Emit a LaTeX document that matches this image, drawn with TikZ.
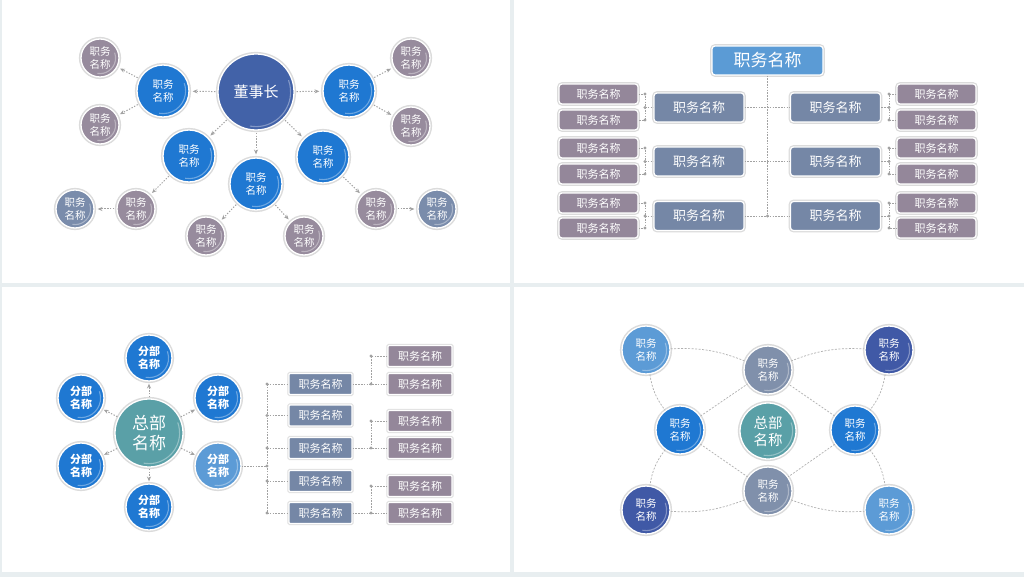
\documentclass[tikz,border=0pt]{standalone}
\usepackage{fontspec}
\newfontfamily\cjk{Noto Sans CJK SC}
\usetikzlibrary{arrows.meta,calc}
\definecolor{bgline}{HTML}{E8EEF0}
\definecolor{cdark}{HTML}{4262A8}
\definecolor{cblue}{HTML}{1F78D2}
\definecolor{cmauve}{HTML}{978B9D}
\definecolor{cslate}{HTML}{7A8CAB}
\definecolor{ctop}{HTML}{5B9BD5}
\definecolor{cmid}{HTML}{7587A6}
\definecolor{csmall}{HTML}{94879A}
\definecolor{cteal}{HTML}{5AA0A7}
\definecolor{clight}{HTML}{5C9BD6}
\definecolor{cdeep}{HTML}{4059A6}
\definecolor{cgslate}{HTML}{8090AB}
\definecolor{lin}{HTML}{A2A2A2}
\tikzset{
  ball/.style={circle, inner sep=0pt, minimum size=#1, draw=white, line width=1.3pt,
    preaction={draw=black!14, line width=4.2pt},
    text=white, align=center,
    path picture={\draw[white,opacity=.35,line width=1.1pt]
      let \p1=($(path picture bounding box.north east)-(path picture bounding box.center)$) in
      ($(path picture bounding box.center)+(-100:\x1-3.4pt)$) arc[start angle=-100,end angle=20,radius=\x1-3.4pt];}},
  pbox/.style={rectangle, rounded corners=3pt, inner sep=0pt, draw=white, line width=1.2pt,
    preaction={draw=black!14, line width=3.6pt}, text=white},
  fbox/.style={rectangle, rounded corners=1pt, inner sep=0pt, draw=white!75, line width=1.1pt,
    preaction={draw=black!12, line width=3.4pt}, text=white,
    minimum height=21, font=\cjk\fontsize{11}{13}\selectfont},
  ftxt/.style={font=\cjk\fontsize{10.5}{12.5}\selectfont},
  arr/.style={draw=lin, line width=1pt, dash pattern=on 1.3pt off 1.6pt,
    -{Stealth[length=4.8pt,width=4pt]}, shorten <=2pt, shorten >=3pt},
  conn/.style={draw=lin, line width=0.7pt, dash pattern=on 1.6pt off 1.2pt},
  dconn/.style={draw=lin!85, line width=0.7pt, dash pattern=on 2pt off 1.5pt},
  jdot/.style={circle, fill=lin, inner sep=0pt, minimum size=3.4pt}
}
\begin{document}
\begin{tikzpicture}[x=1pt,y=-1pt]
\useasboundingbox (0,0) rectangle (1024,577);
\fill[bgline] (0,0) rectangle (1024,577);
\fill[white] (2,0) rectangle (510,283);
\fill[white] (514,0) rectangle (1024,283);
\fill[white] (2,287) rectangle (510,572);
\fill[white] (514,287) rectangle (1024,572);

% ---------- Panel 1 ----------
\node[ball=76, fill=cdark, font=\cjk\fontsize{15}{17}\selectfont] (ceo) at (256,92) {董事长};
\foreach \n/\x/\y in {b1/163/91, b2/349/91, b3/189/156, b4/256/184, b5/323/157}
  \node[ball=52, fill=cblue, ftxt] (\n) at (\x,\y) {职务\\名称};
\foreach \n/\x/\y in {g1/100/58, g2/100/125, g3/411/58, g4/411/126, g5/136/209, g6/206/236, g7/304/236, g8/376/209}
  \node[ball=38, fill=cmauve, ftxt] (\n) at (\x,\y) {职务\\名称};
\foreach \n/\x/\y in {s5/75/209, s8/437/209}
  \node[ball=38, fill=cslate, ftxt] (\n) at (\x,\y) {职务\\名称};
\foreach \a/\b in {ceo/b1, ceo/b2, ceo/b3, ceo/b4, ceo/b5, b1/g1, b1/g2, b2/g3, b2/g4, b3/g5, g5/s5, b4/g6, b4/g7, b5/g8, g8/s8}
  \draw[arr] (\a) -- (\b);

% ---------- Panel 2 ----------
\node[pbox, fill=ctop, minimum width=111, minimum height=29, font=\cjk\fontsize{17}{19}\selectfont] (top) at (767.5,60.5) {职务名称};
\foreach \i/\y in {1/107.5, 2/161.5, 3/216} {
  \node[pbox, fill=cmid, minimum width=90, minimum height=29, font=\cjk\fontsize{13}{15}\selectfont] (mL\i) at (699,\y) {职务名称};
  \node[pbox, fill=cmid, minimum width=90, minimum height=29, font=\cjk\fontsize{13}{15}\selectfont] (mR\i) at (835.5,\y) {职务名称};
}
\foreach \i/\y in {1/94, 2/120, 3/148, 4/174, 5/203, 6/228} {
  \node[pbox, fill=csmall, minimum width=79, minimum height=20, font=\cjk\fontsize{11}{13}\selectfont] (sL\i) at (598.5,\y) {职务名称};
  \node[pbox, fill=csmall, minimum width=79, minimum height=20, font=\cjk\fontsize{11}{13}\selectfont] (sR\i) at (936.5,\y) {职务名称};
}
\coordinate (kl) at (645,0);
\coordinate (kr) at (889,0);
\coordinate (kt) at (767.5,0);
\draw[conn] (top.south) -- (mL3.east -| kt);
\foreach \i in {1,2,3} \draw[conn] (mL\i.east) -- (mR\i.west);
\node[jdot] (jt) at (mL3.east -| kt) {};
\foreach \i/\a/\b in {1/1/2, 2/3/4, 3/5/6} {
  \draw[conn] (sL\a.east) -- (sL\a.east -| kl) -- (sL\b.east -| kl) -- (sL\b.east);
  \draw[conn] (mL\i.west -| kl) -- (mL\i.west);
  \node[jdot] at (sL\a.east -| kl) {};
  \node[jdot] at (sL\b.east -| kl) {};
  \node[jdot] at (mL\i.west -| kl) {};
  \draw[conn] (sR\a.west) -- (sR\a.west -| kr) -- (sR\b.west -| kr) -- (sR\b.west);
  \draw[conn] (mR\i.east) -- (mR\i.east -| kr);
  \node[jdot] at (sR\a.west -| kr) {};
  \node[jdot] at (sR\b.west -| kr) {};
  \node[jdot] at (mR\i.east -| kr) {};
}

% ---------- Panel 3 ----------
\node[ball=68, fill=cteal, font=\cjk\fontsize{17}{20}\selectfont] (hq) at (149,433) {总部\\名称};
\foreach \n/\x/\y/\c in {t1/149/358/cblue, t2/81/398/cblue, t3/218/398/cblue, t4/81/466/cblue, t5/218/466/clight, t6/149/507/cblue}
  \node[ball=46, fill=\c, font=\cjk\bfseries\fontsize{11}{13}\selectfont] (\n) at (\x,\y) {分部\\名称};
\foreach \b in {t1,t2,t3,t4,t5,t6} \draw[arr, shorten <=1pt, shorten >=2pt] (hq) -- (\b);
\foreach \i/\y in {1/384, 2/415.5, 3/448, 4/481, 5/513}
  \node[fbox, fill=cmid, minimum width=63] (m\i) at (320.5,\y) {职务名称};
\foreach \i/\y in {1/356, 2/384, 3/421, 4/448, 5/486, 6/513}
  \node[fbox, fill=csmall, minimum width=64] (r\i) at (420,\y) {职务名称};
\coordinate (tk) at (267,466);
\coordinate (kx) at (371,0);
\draw[conn] (t5.east) -- (tk);
\draw[conn] (m1.west -| tk) -- (m5.west -| tk);
\node[jdot] at (tk) {};
\foreach \i in {1,...,5} {
  \draw[conn] (m\i.west -| tk) -- (m\i.west);
  \node[jdot] at (m\i.west -| tk) {};
}
\foreach \m/\a/\b in {1/1/2, 3/3/4, 5/5/6} {
  \draw[conn] (m\m.east) -- (r\b.west);
  \draw[conn] (r\a.west) -- (r\a.west -| kx) -- (r\b.west -| kx);
  \node[jdot] at (r\a.west -| kx) {};
  \node[jdot] at (r\b.west -| kx) {};
}

% ---------- Panel 4 ----------
\node[ball=56, fill=cteal, font=\cjk\fontsize{14.5}{17}\selectfont] (c4) at (768,431) {总部\\名称};
\foreach \n/\x/\y/\c in {tp/768/370/cgslate, bt/768/491/cgslate, lb/680/430/cblue, rb/855/430/cblue, tl/646/350/clight, tr/889/350/cdeep, bl/646/510/cdeep, br/889/510/clight}
  \node[ball=48, fill=\c, ftxt] (\n) at (\x,\y) {职务\\名称};
\draw[dconn] (tl) to[bend left=12] (tp);
\draw[dconn] (tp) to[bend left=12] (tr);
\draw[dconn] (tl) to[bend right=14] (lb);
\draw[dconn] (lb) to[bend right=14] (bl);
\draw[dconn] (bl) to[bend right=12] (bt);
\draw[dconn] (bt) to[bend right=12] (br);
\draw[dconn] (tr) to[bend left=14] (rb);
\draw[dconn] (rb) to[bend left=14] (br);
\draw[dconn] (lb) -- (tp);
\draw[dconn] (lb) -- (bt);
\draw[dconn] (rb) -- (tp);
\draw[dconn] (rb) -- (bt);
\end{tikzpicture}
\end{document}
